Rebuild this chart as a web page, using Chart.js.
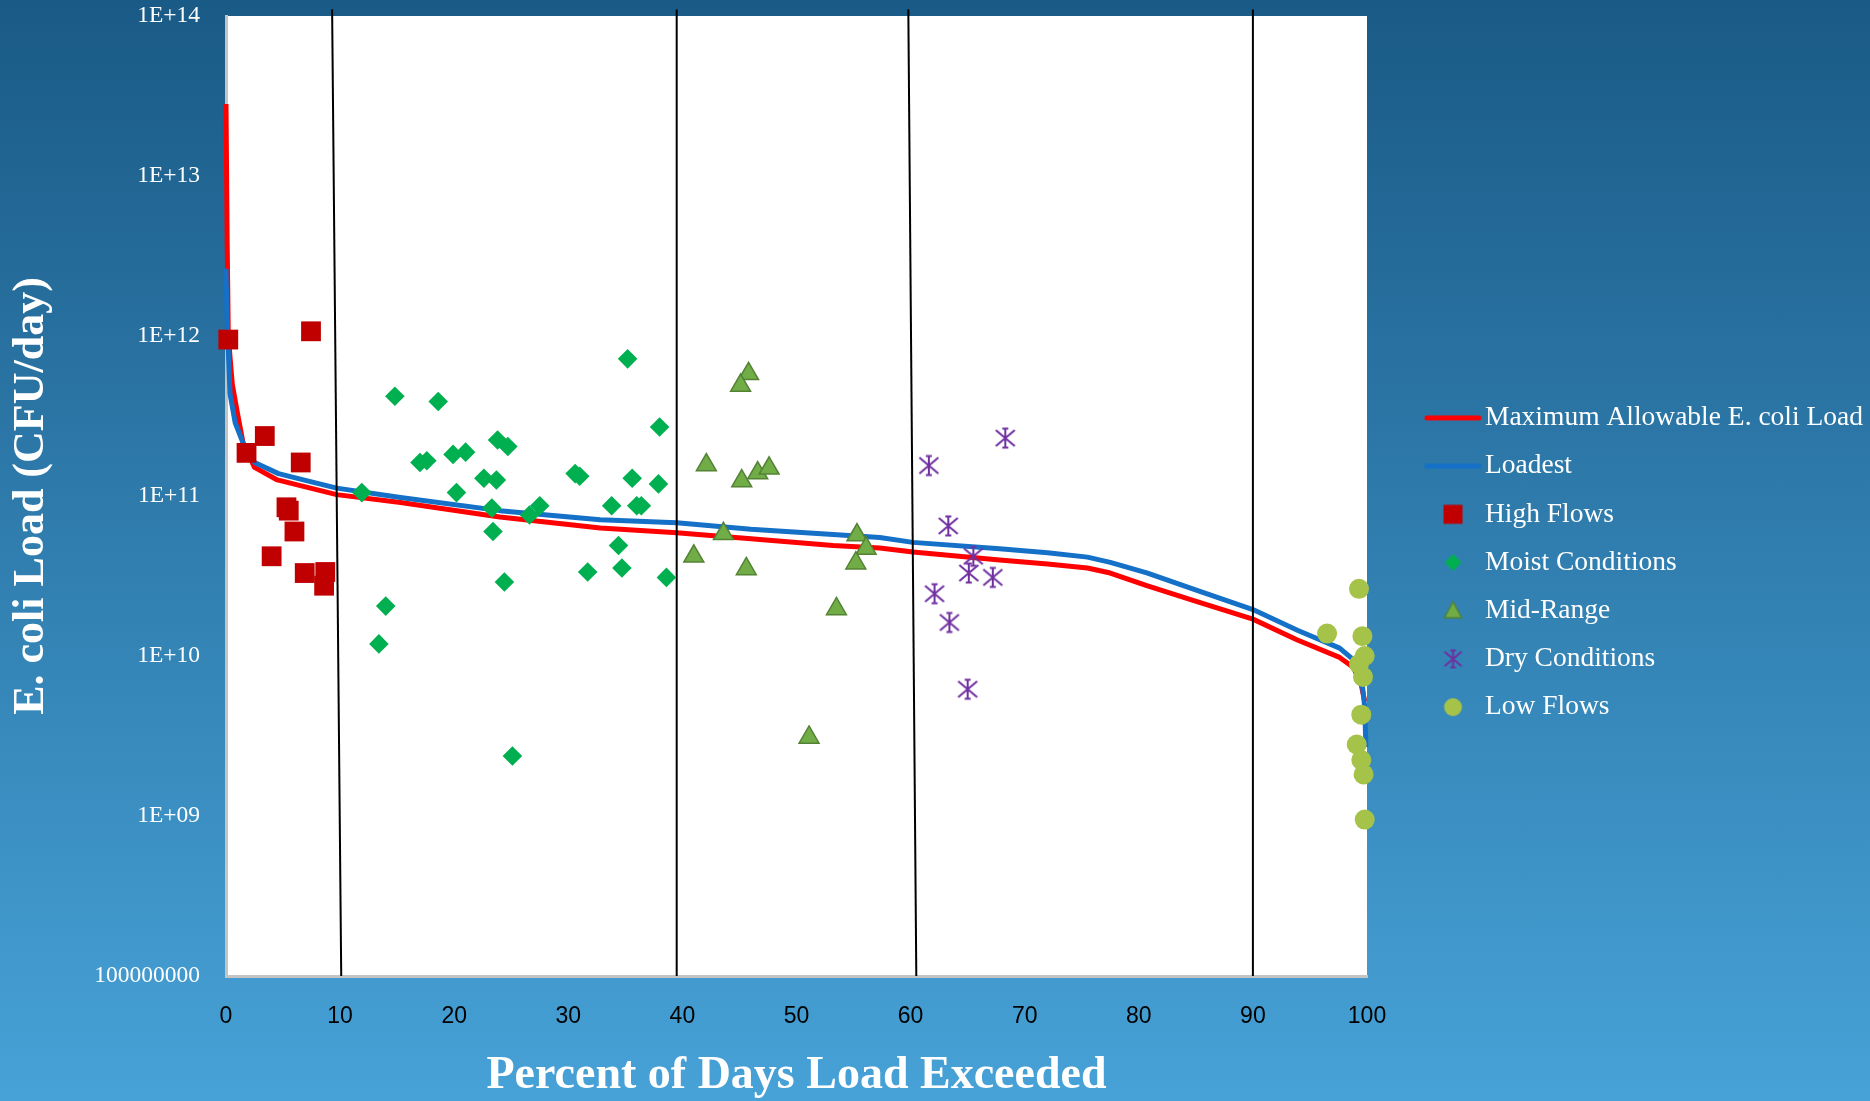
<!DOCTYPE html>
<html>
<head>
<meta charset="utf-8">
<script src="https://cdn.jsdelivr.net/npm/chart.js@4.4.1/dist/chart.umd.min.js"></script>
<style>
html,body{margin:0;padding:0;}
body{width:1870px;height:1101px;overflow:hidden;background:linear-gradient(to bottom,#1a5a86 0%,#307eaf 50%,#47a2d7 100%);}
canvas{display:block;}
</style>
</head>
<body>
<canvas id="c" width="1870" height="1101"></canvas>
<script>
// ---------------- data ----------------
const seriesNames = ['Maximum Allowable E. coli Load','Loadest','High Flows','Moist Conditions','Mid-Range','Dry Conditions','Low Flows'];

const maxLoadX = [0,0.1,0.2,0.55,1.0,1.5,2.5,4.5,7.4,9.7,15.3,24.0,32.8,39.5,46,53.2,57.3,60.2,67.8,72,75.5,77.5,80.7,85.1,90.0,93.9,97.6,98.8,99.5,99.8];
const maxLoadY = [2.82e13,3.98e12,1.0e12,5.0e11,3.31e11,2.14e11,1.51e11,1.26e11,1.12e11,1.02e11,9.1e10,7.4e10,6.3e10,5.9e10,5.4e10,4.9e10,4.73e10,4.47e10,3.98e10,3.76e10,3.55e10,3.3e10,2.75e10,2.19e10,1.70e10,1.26e10,9.8e9,8.5e9,6.6e9,5.2e9];

const loadestX = [0,0.1,0.35,0.8,1.5,2.5,4.6,7.4,9.7,15.3,24.0,32.8,39.5,46,53.2,57.3,60.2,67.8,72,75.5,77.5,80.7,85.1,90.0,93.9,97.6,98.8,99.6,99.8,99.9];
const loadestY = [2.63e12,1.26e12,4.37e11,2.88e11,2.14e11,1.62e11,1.38e11,1.23e11,1.12e11,9.8e10,8.1e10,7.1e10,6.8e10,6.2e10,5.75e10,5.5e10,5.13e10,4.68e10,4.42e10,4.15e10,3.85e10,3.31e10,2.57e10,1.95e10,1.45e10,1.12e10,9.5e9,6.5e9,4.8e9,2.7e9];

const highX = [0.2,7.45,3.4,1.8,6.55,5.3,5.5,6.0,4.0,6.9,8.7,8.6];
const highY = [9.5e11,1.07e12,2.37e11,1.86e11,1.62e11,8.5e10,8.1e10,6.0e10,4.2e10,3.3e10,3.35e10,2.75e10];

const moistX = [11.9,14.8,18.6,35.2,38.0,17.0,17.6,19.9,21.0,23.8,24.7,22.6,23.7,20.2,23.3,27.5,26.6,30.6,31.0,35.6,37.9,33.8,36.0,36.4,23.4,34.4,31.7,34.7,38.6,24.4,14.0,13.4,25.1];
const moistY = [1.05e11,4.2e11,3.9e11,7.2e11,2.7e11,1.62e11,1.66e11,1.82e11,1.88e11,2.24e11,2.04e11,1.29e11,1.26e11,1.05e11,8.4e10,8.7e10,7.6e10,1.38e11,1.33e11,1.29e11,1.19e11,8.7e10,8.7e10,8.7e10,6.0e10,4.9e10,3.35e10,3.55e10,3.1e10,2.9e10,2.05e10,1.19e10,2.37e9];

const midX = [45.8,45.1,42.1,45.2,46.6,47.6,43.6,41.0,45.6,55.3,56.1,55.2,53.5,51.1];
const midY = [5.8e11,4.9e11,1.56e11,1.24e11,1.39e11,1.49e11,5.8e10,4.2e10,3.5e10,5.7e10,4.7e10,3.8e10,1.97e10,3.1e9];

const dryX = [68.3,61.6,63.3,65.5,65.1,67.2,62.1,63.4,65.0];
const dryY = [2.3e11,1.55e11,6.5e10,4.2e10,3.3e10,3.1e10,2.45e10,1.62e10,6.2e9];

const lowX = [99.3,96.5,99.6,99.8,99.3,99.65,99.5,99.1,99.5,99.7,99.8];
const lowY = [2.63e10,1.38e10,1.33e10,1.0e10,8.9e9,7.4e9,4.3e9,2.8e9,2.24e9,1.82e9,9.5e8];

// flow-regime divider lines (top x, bottom x)
const dividerTopX = [9.3,39.5,59.8,90.0];
const dividerBottomX = [10.1,39.5,60.5,90.0];
const dividerTopY = 1.1e14;
const dividerBottomY = 1e8;

const yTickValues = [1e8,1e9,1e10,1e11,1e12,1e13,1e14];
const yTickLabels = ['100000000','1E+09','1E+10','1E+11','1E+12','1E+13','1E+14'];

// ---------------- helpers ----------------
const SERIF = "'Liberation Serif', 'Times New Roman', serif";
const SANS = "'Liberation Sans', Arial, sans-serif";
const pts = (xs, ys) => xs.map((x, i) => ({x, y: ys[i]}));

const C_RED = '#ff0000', C_BLUE = '#1570c8', C_HIGH = '#c00000', C_MOIST = '#00b050',
      C_MID = '#70ad47', C_MID_B = '#548235', C_DRY = '#7030a0', C_LOW = '#a5c249';

function drawAsterisk(g, cx, cy, s, color) {
  g.strokeStyle = color; g.lineWidth = 2; g.lineCap = 'butt';
  g.beginPath();
  g.moveTo(cx, cy - s); g.lineTo(cx, cy + s);
  g.moveTo(cx - s * 0.32, cy - s); g.lineTo(cx + s * 0.32, cy - s);
  g.moveTo(cx - s * 0.32, cy + s); g.lineTo(cx + s * 0.32, cy + s);
  g.moveTo(cx - s, cy - s * 0.85); g.lineTo(cx + s, cy + s * 0.85);
  g.moveTo(cx + s, cy - s * 0.85); g.lineTo(cx - s, cy + s * 0.85);
  g.stroke();
}
const asteriskImg = document.createElement('canvas');
asteriskImg.width = 24; asteriskImg.height = 24;
drawAsterisk(asteriskImg.getContext('2d'), 12, 12, 9.5, C_DRY);

// legend geometry
const PLOT_RIGHT = 1367;
const LEG_FONT = 27.5, LEG_PAD = 20.7, LEG_BOX = 83.5;
const LEG_MARK_X = 1453;
const markOff = LEG_MARK_X - (PLOT_RIGHT + LEG_PAD) - LEG_BOX / 2;
const LW = 110, LH = 28;
function legendImg(draw) {
  const c = document.createElement('canvas');
  c.width = LW; c.height = LH;
  const g = c.getContext('2d');
  draw(g, LW / 2 + markOff, LH / 2);
  return c;
}
const legendImgs = [
  legendImg((g, cx, cy) => { g.strokeStyle = C_RED; g.lineWidth = 5; g.lineCap = 'round'; g.beginPath(); g.moveTo(cx - 26, cy); g.lineTo(cx + 26, cy); g.stroke(); }),
  legendImg((g, cx, cy) => { g.strokeStyle = C_BLUE; g.lineWidth = 5; g.lineCap = 'round'; g.beginPath(); g.moveTo(cx - 26, cy); g.lineTo(cx + 26, cy); g.stroke(); }),
  legendImg((g, cx, cy) => { g.fillStyle = C_HIGH; g.fillRect(cx - 9.5, cy - 9.5, 19, 19); }),
  legendImg((g, cx, cy) => { g.fillStyle = C_MOIST; g.beginPath(); g.moveTo(cx, cy - 8.5); g.lineTo(cx + 8.5, cy); g.lineTo(cx, cy + 8.5); g.lineTo(cx - 8.5, cy); g.closePath(); g.fill(); }),
  legendImg((g, cx, cy) => { g.fillStyle = C_MID; g.strokeStyle = C_MID_B; g.lineWidth = 1.5; g.beginPath(); g.moveTo(cx, cy - 9); g.lineTo(cx + 8.5, cy + 7); g.lineTo(cx - 8.5, cy + 7); g.closePath(); g.fill(); g.stroke(); }),
  legendImg((g, cx, cy) => { drawAsterisk(g, cx, cy, 8.5, C_DRY); }),
  legendImg((g, cx, cy) => { g.fillStyle = C_LOW; g.beginPath(); g.arc(cx, cy, 9, 0, Math.PI * 2); g.fill(); })
];

// measure longest legend label to keep plot right edge at PLOT_RIGHT
const mctx = document.createElement('canvas').getContext('2d');
mctx.font = LEG_FONT + 'px ' + SERIF;
const longest = Math.max(...seriesNames.map(s => mctx.measureText(s).width));
const legNeeded = LEG_PAD + LEG_BOX + LEG_FONT / 2 + longest + 10;
const legWidth = 1870 - PLOT_RIGHT;
const padRight = Math.max(0, legWidth - legNeeded);

// ---------------- datasets ----------------
const datasets = [
  {label: seriesNames[0], data: pts(maxLoadX, maxLoadY), showLine: true, borderColor: C_RED, backgroundColor: C_RED, borderWidth: 5, pointRadius: 0, tension: 0, borderJoinStyle: 'round', clip: false, order: 20},
  {label: seriesNames[1], data: pts(loadestX, loadestY), showLine: true, borderColor: C_BLUE, backgroundColor: C_BLUE, borderWidth: 5, pointRadius: 0, tension: 0, borderJoinStyle: 'round', clip: false, order: 19},
  {label: seriesNames[2], data: pts(highX, highY), pointStyle: 'rect', pointRadius: 14, backgroundColor: C_HIGH, borderColor: C_HIGH, borderWidth: 0, clip: false, order: 5},
  {label: seriesNames[3], data: pts(moistX, moistY), pointStyle: 'rectRot', pointRadius: 9.8, backgroundColor: C_MOIST, borderColor: C_MOIST, borderWidth: 0, clip: false, order: 4},
  {label: seriesNames[4], data: pts(midX, midY), pointStyle: 'triangle', pointRadius: 11.5, backgroundColor: C_MID, borderColor: C_MID_B, borderWidth: 1.5, clip: false, order: 3},
  {label: seriesNames[5], data: pts(dryX, dryY), pointStyle: asteriskImg, pointRadius: 10, backgroundColor: C_DRY, borderColor: C_DRY, borderWidth: 0, clip: false, order: 2},
  {label: seriesNames[6], data: pts(lowX, lowY), pointStyle: 'circle', pointRadius: 10, backgroundColor: C_LOW, borderColor: C_LOW, borderWidth: 0, clip: false, order: 1}
];
dividerTopX.forEach((tx, i) => {
  datasets.push({label: 'divider' + i, data: [{x: tx, y: dividerTopY}, {x: dividerBottomX[i], y: dividerBottomY}], showLine: true, borderColor: '#000', borderWidth: 2, pointRadius: 0, clip: false, order: 10});
});

const plotBg = {
  id: 'plotBg',
  beforeDraw(chart) {
    const {ctx, chartArea: a} = chart;
    ctx.save();
    ctx.fillStyle = '#ffffff';
    ctx.fillRect(a.left, a.top, a.right - a.left, a.bottom - a.top);
    ctx.restore();
  }
};

new Chart(document.getElementById('c'), {
  type: 'scatter',
  data: {datasets},
  options: {
    responsive: false,
    animation: false,
    events: [],
    layout: {autoPadding: false, padding: {top: 16, right: padRight, bottom: 0, left: 0}},
    plugins: {
      tooltip: {enabled: false},
      legend: {
        position: 'right',
        align: 'center',
        maxWidth: legWidth,
        title: {display: true, text: ' ', padding: 0, font: {family: SERIF, size: 8, lineHeight: 1}},
        labels: {
          usePointStyle: true,
          pointStyleWidth: LEG_BOX,
          padding: LEG_PAD,
          color: '#ffffff',
          font: {family: SERIF, size: LEG_FONT},
          generateLabels: () => seriesNames.map((t, i) => ({
            text: t, pointStyle: legendImgs[i], fillStyle: 'rgba(0,0,0,0)', strokeStyle: 'rgba(0,0,0,0)',
            lineWidth: 1, hidden: false, datasetIndex: i, fontColor: '#ffffff'
          }))
        }
      }
    },
    scales: {
      x: {
        type: 'linear', min: 0, max: 100,
        afterFit: s => { s.height = 125; s.paddingLeft = 0; s.paddingRight = 0; },
        ticks: {stepSize: 10, color: '#000000', padding: 27, maxRotation: 0, autoSkip: false, font: {family: SANS, size: 23}},
        grid: {display: false, drawTicks: false},
        border: {display: true, color: '#c4c4c4', width: 3},
        title: {display: true, text: 'Percent of Days Load Exceeded', color: '#ffffff', padding: {top: 0, bottom: 0}, font: {family: SERIF, size: 46, weight: 'bold', lineHeight: 1.07}}
      },
      y: {
        type: 'logarithmic', min: 1e8, max: 1e14,
        afterFit: s => { s.width = 226; s.paddingTop = 0; s.paddingBottom = 0; },
        afterBuildTicks: s => { s.ticks = yTickValues.map(v => ({value: v})); },
        ticks: {
          autoSkip: false, padding: 26, color: '#ffffff', font: {family: SERIF, size: 23.5},
          callback: v => yTickLabels[Math.round(Math.log10(v)) - 8]
        },
        grid: {display: false, drawTicks: false},
        border: {display: true, color: '#c4c4c4', width: 3},
        title: {display: true, text: 'E. coli Load (CFU/day)', color: '#ffffff', padding: {top: 5, bottom: 0}, font: {family: SERIF, size: 44, weight: 'bold'}}
      }
    }
  },
  plugins: [plotBg]
});
</script>
</body>
</html>
